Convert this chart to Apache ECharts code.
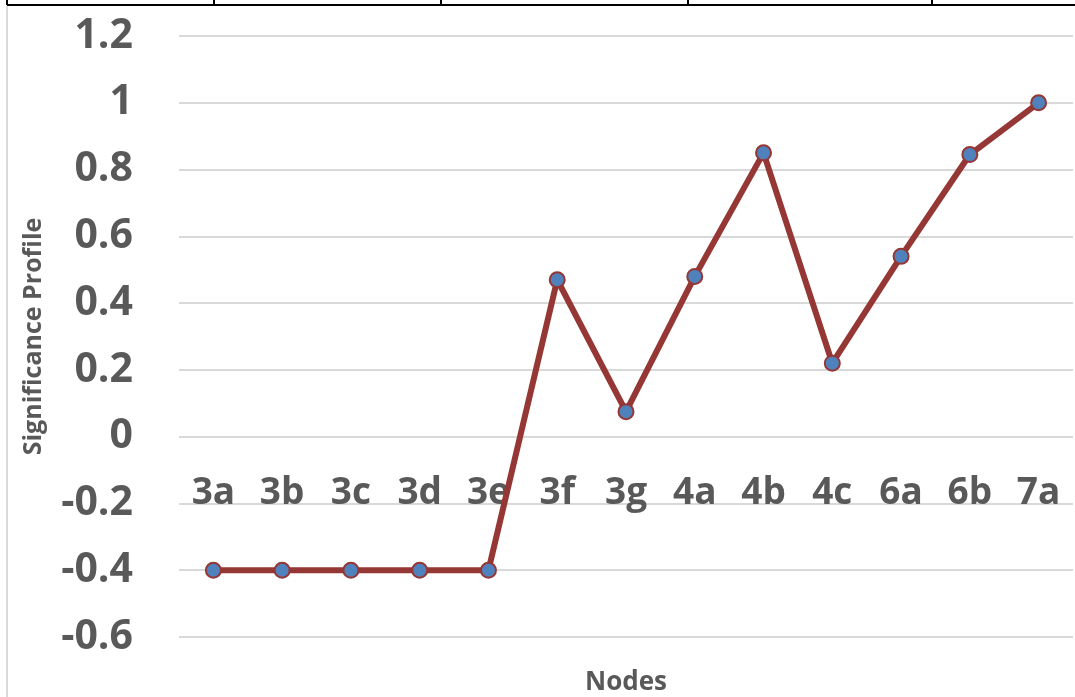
<!DOCTYPE html>
<html>
<head>
<meta charset="utf-8">
<script src="https://cdn.jsdelivr.net/npm/echarts@6/dist/echarts.min.js"></script>
<style>
html,body{margin:0;padding:0;background:#fff;}
#chart{width:1075px;height:697px;}
</style>
</head>
<body>
<div id="chart"></div>
<script>
const categories = ['3a','3b','3c','3d','3e','3f','3g','4a','4b','4c','6a','6b','7a'];
const significance = [-0.4,-0.4,-0.4,-0.4,-0.4,0.47,0.075,0.48,0.85,0.22,0.54,0.845,1.0];
const yTicks = {min: -0.6, max: 1.2, interval: 0.2};
const xTitle = 'Nodes';
const yTitle = 'Significance Profile';

const chart = echarts.init(document.getElementById('chart'));
const font = '"Open Sans", "DejaVu Sans", sans-serif';
const tableLinesX = [7, 214, 441, 688, 932];
const graphics = [
  {type:'line', shape:{x1:7,y1:5,x2:1075,y2:5}, style:{stroke:'#000',lineWidth:2}},
  {type:'line', shape:{x1:7,y1:6,x2:7,y2:697}, style:{stroke:'#d9d9d9',lineWidth:2}},
  {type:'text', x:626, y:683, style:{text:xTitle, font:'bold 26px ' + font, fill:'#595959', textAlign:'center', textVerticalAlign:'middle'}}
];
tableLinesX.forEach(x => graphics.push({type:'line', shape:{x1:x,y1:0,x2:x,y2:5}, style:{stroke:'#000',lineWidth:2}}));

const gridTop = 36, gridBottom = 60, chartH = 697;
// shift the category axis up to the zero line of the value axis
const plotH = chartH - gridTop - gridBottom;
const zeroOffset = -plotH * (0 - yTicks.min) / (yTicks.max - yTicks.min);

chart.setOption({
  animation:false,
  backgroundColor:'#fff',
  graphic: graphics,
  grid:{left:179, right:2, top:gridTop, bottom:gridBottom, containLabel:false, outerBoundsMode:'none'},
  xAxis:{
    type:'category',
    data:categories,
    boundaryGap:true,
    offset: zeroOffset,
    axisLine:{show:false, onZero:false},
    axisTick:{show:false},
    axisLabel:{fontFamily:font, fontWeight:'bold', fontSize:37, color:'#595959', margin:38}
  },
  yAxis:{
    type:'value',
    min:yTicks.min, max:yTicks.max, interval:yTicks.interval,
    axisLine:{show:false},
    axisTick:{show:false},
    splitLine:{lineStyle:{color:'#d9d9d9', width:2}},
    axisLabel:{fontFamily:font, fontWeight:'bold', fontSize:41, color:'#595959', margin:46,
      formatter: v => { const r = Math.round(v*10)/10; return String(r); }},
    name:yTitle,
    nameLocation:'middle',
    nameGap:133,
    nameTextStyle:{fontFamily:font, fontWeight:'bold', fontSize:25, color:'#595959'}
  },
  series:[{
    type:'line',
    data:significance,
    lineStyle:{color:'#953735', width:6},
    symbol:'circle',
    symbolSize:15,
    itemStyle:{color:'#4f81bd', borderColor:'#953735', borderWidth:2},
    z:3
  }]
});
</script>
</body>
</html>
